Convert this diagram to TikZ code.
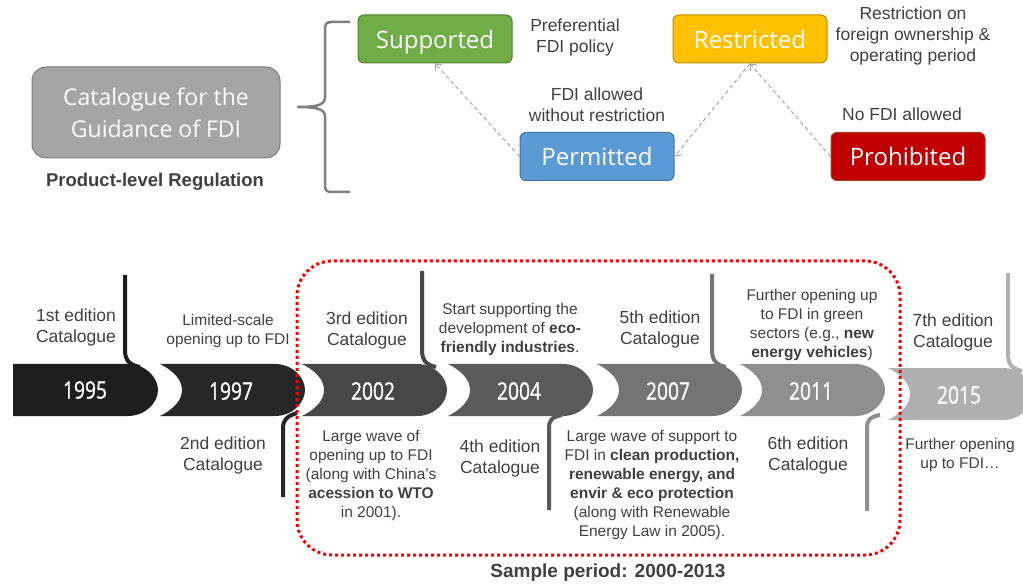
\documentclass[tikz,border=0pt]{standalone}
\usepackage{fontspec}
\setmainfont{Liberation Sans}
\newfontfamily\boxfont{Open Sans}
\newfontfamily\yearfont[FakeStretch=0.8,FakeBold=1]{Open Sans}
\usepackage{tikz}
\usetikzlibrary{arrows.meta}
\usepackage{xcolor}
\definecolor{txtgrey}{HTML}{404040}
\definecolor{linkgrey}{HTML}{A6A6A6}
\definecolor{bracegrey}{HTML}{7F7F7F}
\definecolor{catfill}{HTML}{A5A5A5}
\definecolor{catline}{HTML}{7C7C7C}
\definecolor{supfill}{HTML}{70AD47}
\definecolor{supline}{HTML}{507E32}
\definecolor{resfill}{HTML}{FFC000}
\definecolor{resline}{HTML}{BC8C00}
\definecolor{permfill}{HTML}{5B9BD5}
\definecolor{permline}{HTML}{41719C}
\definecolor{prohfill}{HTML}{C00000}
\definecolor{prohline}{HTML}{A04020}
\definecolor{seg1}{HTML}{1E1E1E}
\definecolor{seg2}{HTML}{272727}
\definecolor{seg3}{HTML}{474747}
\definecolor{seg4}{HTML}{5A5A5A}
\definecolor{seg5}{HTML}{747474}
\definecolor{seg6}{HTML}{8F8F8F}
\definecolor{seg7}{HTML}{B0B0B0}

\tikzset{
  catbox/.style={rounded corners=6pt, draw, line width=1pt, minimum width=154pt,
    minimum height=48pt, text=white, text depth=0pt, font=\boxfont\fontsize{24}{28}\selectfont},
  note/.style={text=txtgrey, align=center, font=\fontsize{17.5}{21}\selectfont},
  smallnote/.style={note, font=\fontsize{15.5}{19}\selectfont},
  link/.style={->, draw=linkgrey, line width=1pt, dash pattern=on 4pt off 3pt},
  yearlbl/.style={text=white, font=\yearfont\fontsize{24}{28}\selectfont},
  stem/.style={line width=4pt},
}

\begin{document}
\begin{tikzpicture}[x=1pt,y=-1pt,>={Straight Barb[length=5pt,width=9pt]}]
\useasboundingbox (0,0) rectangle (1023,585);
\clip (0,0) rectangle (1023,585);

%%%CATALOGUE AND BRACE
\node[catbox, fill=catfill, draw=catline, minimum width=248pt, minimum height=91pt,
  rounded corners=14pt, align=center, font=\boxfont\fontsize{23}{32}\selectfont]
  (cat) at (156,112.5) {Catalogue for the\\Guidance of FDI};
\node[text=txtgrey, font=\bfseries\fontsize{18.5}{22}\selectfont] (level) at (155,182) {Product-level Regulation};
\draw[bracegrey, line width=2.5pt, line join=round]
  (350,22) -- (331,22) .. controls (327,22) and (325,24) .. (325,28) -- (325,97)
  .. controls (325,104) and (320,107) .. (298,107)
  .. controls (320,107) and (325,110) .. (325,117) -- (325,186)
  .. controls (325,190) and (327,192) .. (331,192) -- (350,192);

%%%CATEGORIES
\node[catbox, fill=supfill, draw=supline] (sup) at (435,39) {Supported};
\node[catbox, fill=resfill, draw=resline] (res) at (750,39) {Restricted};
\node[catbox, fill=permfill, draw=permline] (perm) at (597,156.5) {Permitted};
\node[catbox, fill=prohfill, draw=prohline] (proh) at (908,156.5) {Prohibited};

\node[note] (supnote) at (575,37.5) {Preferential\\FDI policy};
\node[note] (resnote) at (913,35.5) {Restriction on\\foreign ownership \&\\operating period};
\node[note] (permnote) at (597,104.5) {FDI allowed\\without restriction};
\node[note] (prohnote) at (902,114) {No FDI allowed};

\draw[link] (perm.west) -- (sup.south);
\draw[link] (res.south) -- (perm.east);
\draw[link] (proh.west) -- (res.south);

%%%TIMELINE
\fill[seg1] (13,364) -- (128,364) .. controls (145,364) and (158,377) .. (158,390)
  .. controls (158,403) and (145,416) .. (128,416) -- (13,416) -- cycle;
\node[yearlbl] (y1995) at (85,390) {1995};
\foreach \x/\dy/\c/\yr in {160/0/seg2/1997, 302/0/seg3/2002, 448/0/seg4/2004,
  597/0/seg5/2007, 740/0/seg6/2011, 888/4/seg7/2015}{
  \fill[\c] (\x,364+\dy) -- (\x+115,364+\dy)
    .. controls (\x+132,364+\dy) and (\x+145,377+\dy) .. (\x+145,390+\dy)
    .. controls (\x+145,403+\dy) and (\x+132,416+\dy) .. (\x+115,416+\dy)
    -- (\x,416+\dy)
    .. controls (\x+14,409+\dy) and (\x+22,400+\dy) .. (\x+22,390+\dy)
    .. controls (\x+22,380+\dy) and (\x+14,371+\dy) .. cycle;
  \node[yearlbl] (y\yr) at (\x+71,391+\dy) {\yr};
}

%%%STEMS
\draw[stem, seg1] (125,275) -- (125,350) .. controls (125,360) and (129,365) .. (140,367);
\draw[stem, seg2] (283,497) -- (283,428) .. controls (283,420) and (287,416) .. (297,413);
\draw[stem, seg3] (422,271) -- (422,350) .. controls (422,360) and (426,365) .. (436,367);
\draw[stem, seg4] (549,510) -- (549,428) .. controls (549,420) and (552,417) .. (562,415);
\draw[stem, seg5] (712,274) -- (712,350) .. controls (712,360) and (716,365) .. (726,367);
\draw[stem, seg6] (867,511) -- (867,428) .. controls (867,420) and (870,417) .. (880,415);
\draw[stem, seg7] (1008,273) -- (1008,354) .. controls (1008,364) and (1012,369) .. (1022,371);

%%%SAMPLE PERIOD
\draw[red, line width=3pt, dash pattern=on 3pt off 3pt, rounded corners=35pt] (297,261) rectangle (900,555);
\node[text=txtgrey, font=\bfseries\fontsize{19}{23}\selectfont] (period) at (608,573) {Sample period: 2000-2013};

%%%EDITIONS
\node[note] (e1995) at (76,327) {1st edition\\Catalogue};
\node[smallnote] (e1997) at (228,331) {Limited-scale\\opening up to FDI};
\node[note] (f1997) at (223,455) {2nd edition\\Catalogue};
\node[note] (e2002) at (367,330) {3rd edition\\Catalogue};
\node[smallnote] (f2002) at (371,475) {Large wave of\\opening up to FDI\\(along with China’s\\\textbf{acession to WTO}\\in 2001).};
\node[smallnote] (e2004) at (510,329) {Start supporting the\\development of \textbf{eco-}\\\textbf{friendly industries}.};
\node[note] (f2004) at (500,458) {4th edition\\Catalogue};
\node[note] (e2007) at (660,329) {5th edition\\Catalogue};
\node[smallnote] (f2007) at (652,485) {Large wave of support to\\FDI in \textbf{clean production,}\\\textbf{renewable energy, and}\\\textbf{envir \& eco protection}\\(along with Renewable\\Energy Law in 2005).};
\node[smallnote] (e2011) at (812,325) {Further opening up\\to FDI in green\\sectors (e.g., \textbf{new}\\\textbf{energy vehicles})};
\node[note] (f2011) at (808,455) {6th edition\\Catalogue};
\node[note] (e2015) at (953,332) {7th edition\\Catalogue};
\node[smallnote] (f2015) at (960,455) {Further opening\\up to FDI…};
\end{tikzpicture}
\end{document}
